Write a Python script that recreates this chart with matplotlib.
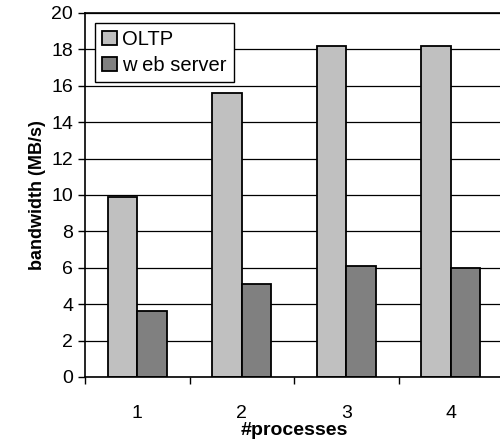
import matplotlib.pyplot as plt
import numpy as np

plt.rcParams['font.family'] = ['Liberation Sans', 'DejaVu Sans']

procs = ['1', '2', '3', '4']
oltp = [9.9, 15.6, 18.2, 18.2]
web = [3.6, 5.1, 6.1, 6.0]

x = np.arange(1, len(procs) + 1)
w = 0.28

fig = plt.figure(figsize=(5.0, 4.44), dpi=100)
ax = fig.add_axes([0.17, 0.151, 0.836, 0.820])
ax.set_axisbelow(True)
ax.grid(True, axis='y', color='black', linewidth=0.9)
b1 = ax.bar(x - w / 2, oltp, w, color='#c0c0c0', edgecolor='black', linewidth=1.3)
b2 = ax.bar(x + w / 2, web, w, color='#808080', edgecolor='black', linewidth=1.3)

ax.set_xlim(0.5, 4.5)
ax.set_ylim(0, 20)
ax.set_yticks(np.arange(0, 21, 2))
ax.set_xticks(np.arange(0.5, 4.6, 1.0))
ax.set_xticks(x, minor=True)
ax.set_xticklabels(procs, minor=True)
ax.set_xticklabels([])
ax.tick_params(axis='x', which='major', direction='out', length=5, width=1)
ax.tick_params(axis='x', which='minor', length=0, pad=20, labelsize=14)
ax.tick_params(axis='y', direction='out', length=5, width=1, labelsize=14)
ax.spines['right'].set_visible(False)
for s in ['left', 'bottom', 'top']:
    ax.spines[s].set_linewidth(1.2)

ax.set_xlabel('#processes', fontsize=14, fontweight='bold', labelpad=0)
ax.set_ylabel('bandwidth (MB/s)', fontsize=13, fontweight='bold', labelpad=4)

leg = ax.legend([b1, b2], ['OLTP', 'w eb server'], loc='upper left',
                bbox_to_anchor=(0.0, 1.0), fontsize=14.5, fancybox=False,
                framealpha=1, edgecolor='black', handlelength=0.75,
                handleheight=0.75, handletextpad=0.25, borderpad=0.35,
                labelspacing=0.35)
leg.get_frame().set_linewidth(1.0)

fig.savefig('out.png', dpi=100)
